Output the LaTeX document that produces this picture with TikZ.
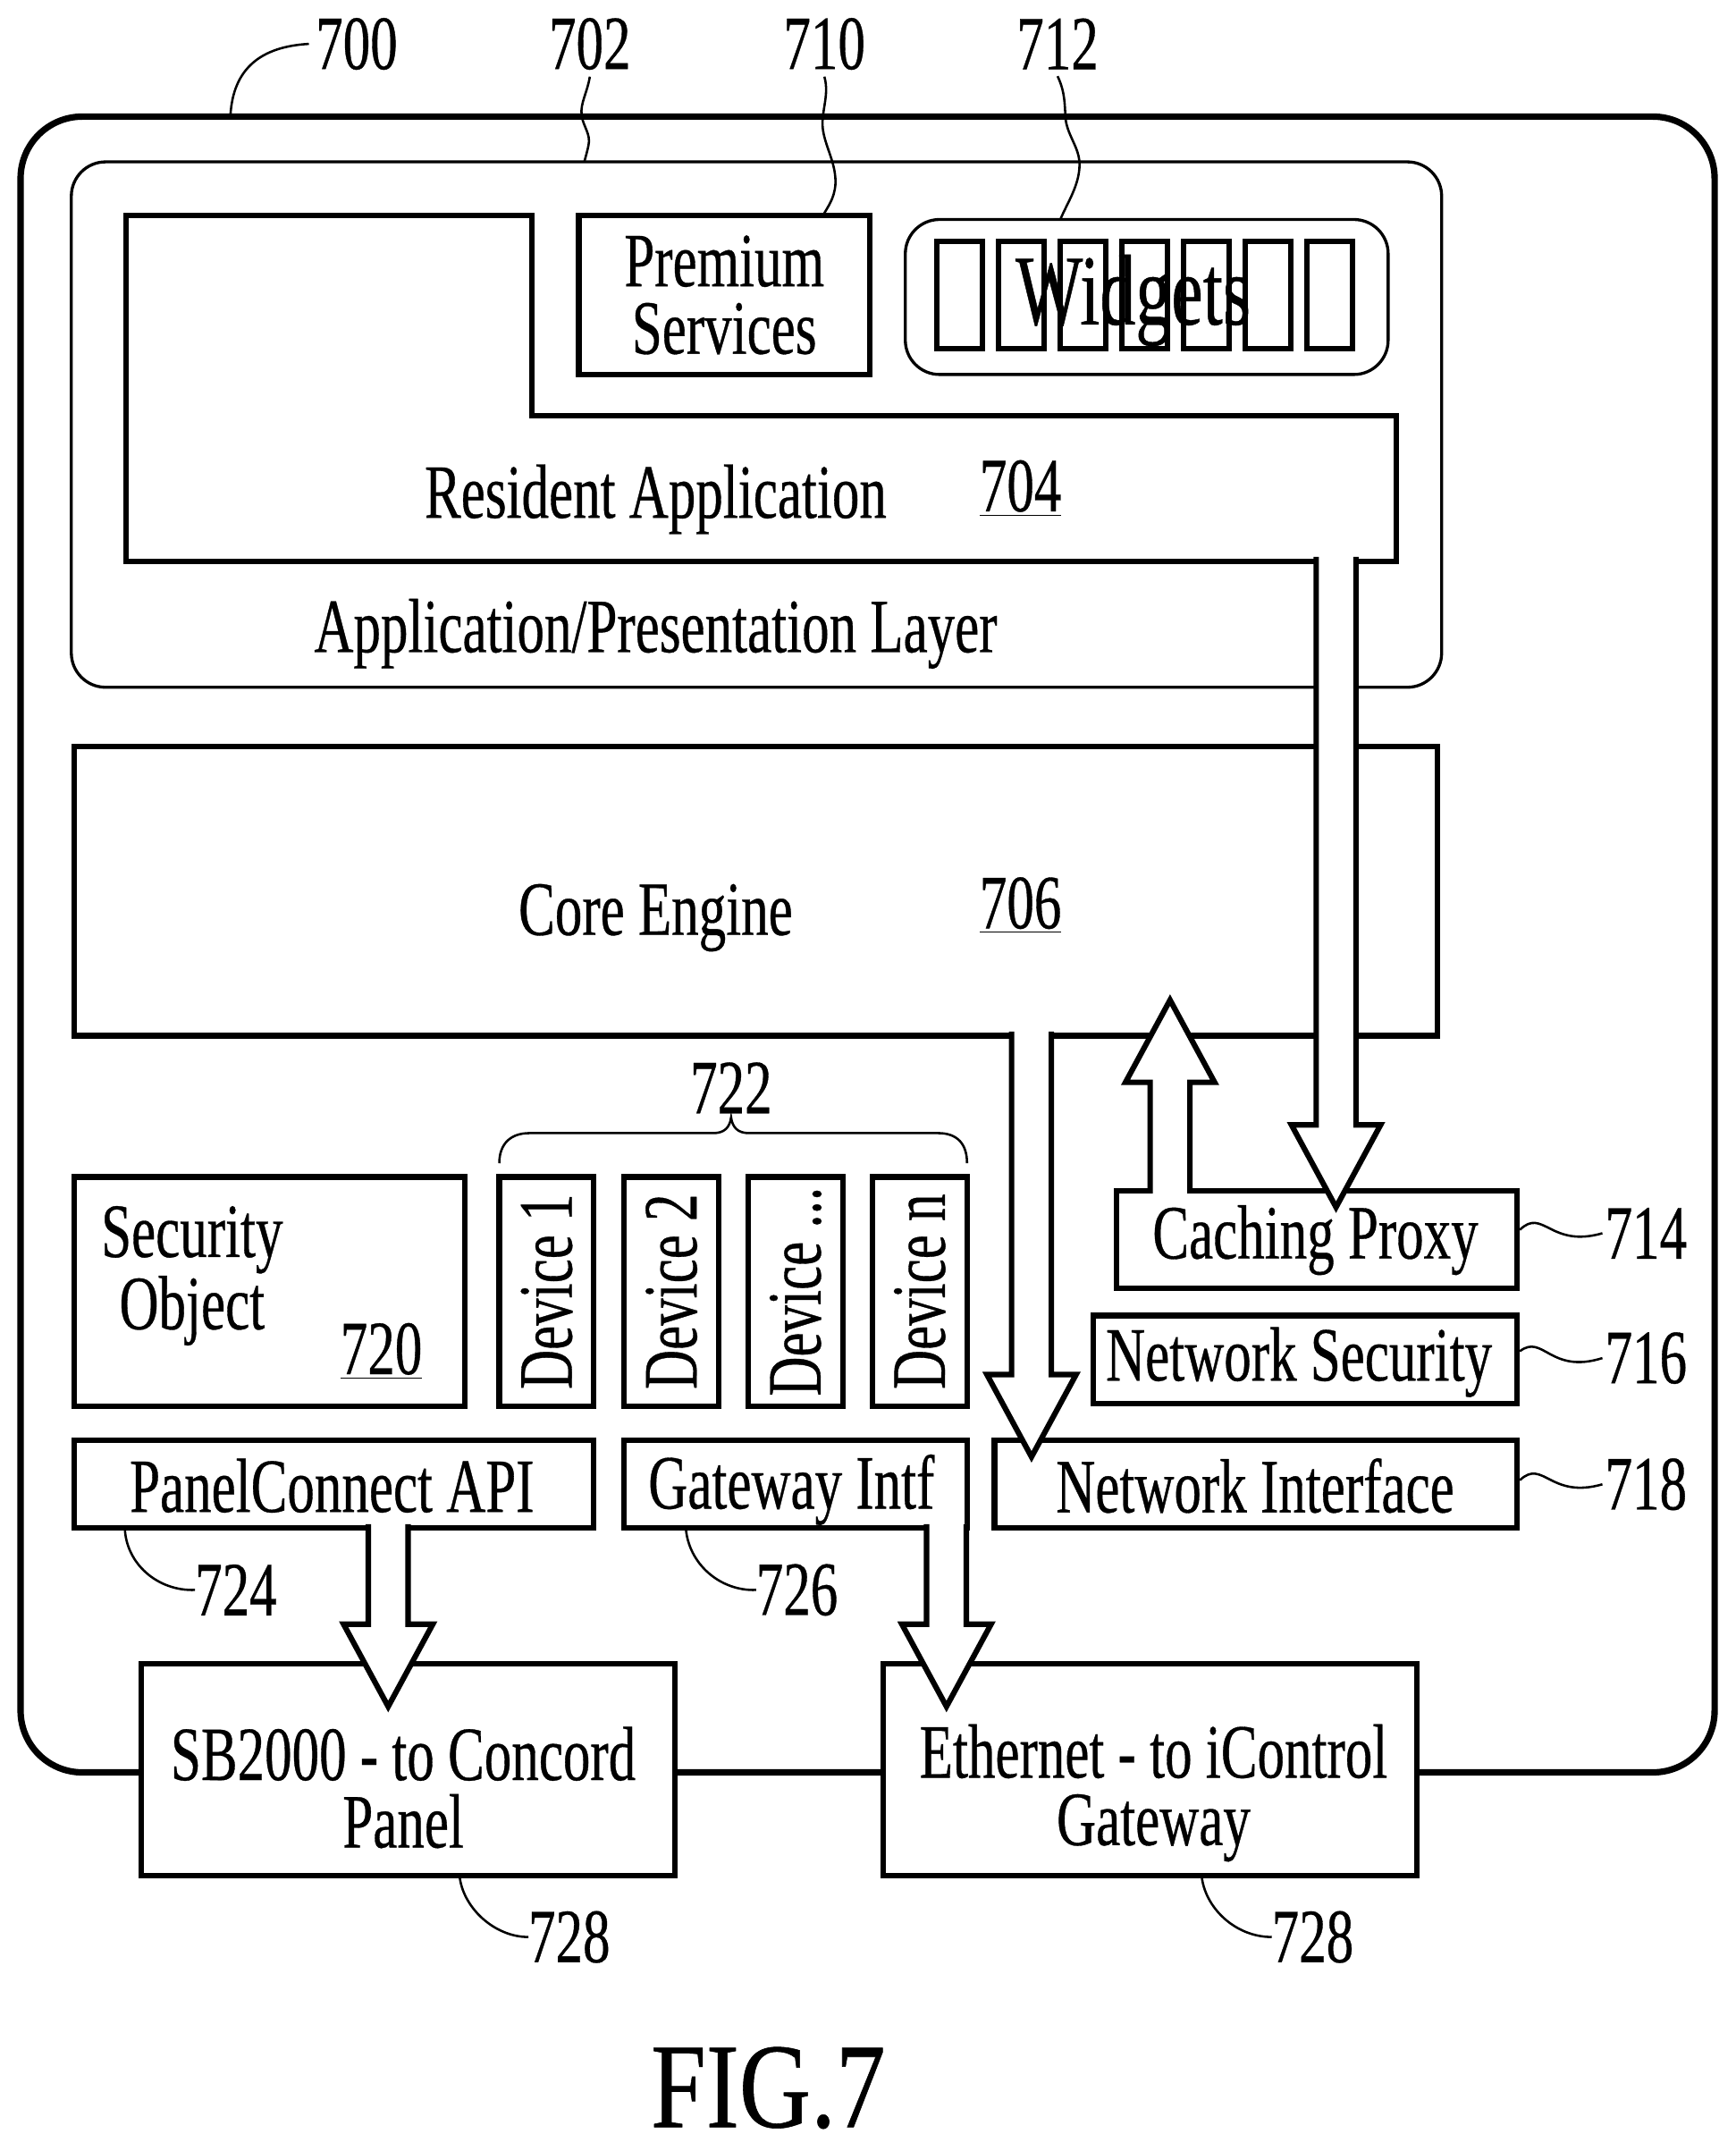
\documentclass[tikz,border=0pt]{standalone}
\usepackage{fontspec}
\setmainfont[FakeStretch=0.71,FakeBold=0.4]{Liberation Serif}
\newfontfamily\figfont[FakeStretch=0.82,FakeBold=0.4]{Liberation Serif}
\usetikzlibrary{calc}
\def\px{0.6pt}
\tikzset{
  thickbox/.style={draw, fill=white, line width=2.4pt, inner sep=0pt, outer sep=0pt, align=center, font=\bodyfont},
  thinbox/.style={draw, line width=1.3pt, inner sep=0pt, outer sep=0pt},
  slot/.style={draw, line width=2.4pt, inner sep=0pt, outer sep=0pt, minimum width=33*\px, minimum height=78*\px},
  devicebox/.style={thickbox, rotate=90, minimum width=167*\px, minimum height=69*\px},
  label/.style={inner sep=0pt, outer sep=0pt, align=center, font=\bodyfont},
  leader/.style={line width=1pt},
  blockline/.style={draw, fill=white, line width=2.4pt, line join=miter}
}
\newcommand{\bodyfont}{\fontsize{33.6}{29.5}\selectfont}
% from, tip, direction (1 down, -1 up)
\newcommand{\blockarrow}[3]{
  \path[blockline] ($(#1)+(-14.5,0)$) -- ($(#2)+(-14.5,-60*#3)$) -- ($(#2)+(-32.5,-60*#3)$) -- (#2)
    -- ($(#2)+(32.5,-60*#3)$) -- ($(#2)+(14.5,-60*#3)$) -- ($(#1)+(14.5,0)$);
}
\begin{document}
\begin{tikzpicture}[x=0.6pt, y=-0.6pt]
  \useasboundingbox (0,0) rectangle (1265,1568);

  % Nodes
  \node[draw, line width=2.8pt, rounded corners=45*\px, minimum width=1235*\px, minimum height=1207*\px, inner sep=0pt, outer sep=0pt] at (632.5,688.5) (device) {};
  \node[thinbox, rounded corners=25*\px, minimum width=999*\px, minimum height=383*\px] at (551.5,309.5) (applayer) {};

  \draw[line width=2.4pt, line join=miter] (92,157) -- (388,157) -- (388,303) -- (1018,303) -- (1018,409) -- (92,409) -- cycle;
  \node[label] at (478,364) (resident) {Resident Application};
  \node[label] at (744,356) (n704) {\underline{704}};
  \node[label] at (478,462) (applabel) {Application/Presentation Layer};

  \node[thickbox, minimum width=212*\px, minimum height=116*\px] at (528,215) (premium) {Premium\\Services};
  \node[thinbox, rounded corners=25*\px, minimum width=352*\px, minimum height=113*\px] at (836,216.5) (widgets) {};
  \foreach \i in {0,...,6}
    \node[slot] at (699.5+45*\i,215) (slot\i) {};
  \node[label, font=\fontsize{44}{44}\selectfont] at (826,219) (widgetlabel) {Widgets};

  \node[thickbox, minimum width=994*\px, minimum height=211*\px] at (551,649.5) (core) {};
  \node[label] at (478,669) (corelabel) {Core Engine};
  \node[label] at (744,660) (n706) {\underline{706}};

  \node[thickbox, minimum width=292*\px, minimum height=71*\px] at (960,903.5) (proxy) {};
  \node[thickbox, minimum width=309*\px, minimum height=64*\px] at (951.5,991) (netsec) {};
  \node[thickbox, minimum width=381*\px, minimum height=64*\px] at (915.5,1082) (netif) {};

  \node[thickbox, minimum width=285*\px, minimum height=167*\px] at (196.5,941.5) (security) {};
  \node[label] at (140,930) (seclabel) {Security\\Object};
  \node[label] at (278,985) (n720) {\underline{720}};

  \node[devicebox] at (398.5,941.5) (dev1) {Device 1};
  \node[devicebox] at (489.5,941.5) (dev2) {Device 2};
  \node[devicebox] at (580,941.5) (dev3) {Device ...};
  \node[devicebox] at (670.5,941.5) (dev4) {Device n};

  \node[thickbox, minimum width=379*\px, minimum height=64*\px] at (243.5,1082) (panelapi) {};
  \node[thickbox, minimum width=250*\px, minimum height=64*\px] at (580,1082) (gateway) {};

  \node[thickbox, minimum width=389*\px, minimum height=154*\px] at (297.5,1290) (sb2000) {};
  \node[thickbox, minimum width=389*\px, minimum height=154*\px] at (838.5,1290) (ethernet) {};

  % Reference numbers
  \node[label] at (260,32) (n700) {700};
  \node[label] at (430,32) (n702) {702};
  \node[label] at (601,32) (n710) {710};
  \node[label] at (771,32) (n712) {712};
  \node[label] at (533,793) (n722) {722};
  \node[label] at (1200,899) (n714) {714};
  \node[label] at (1200,990) (n716) {716};
  \node[label] at (1200,1082) (n718) {718};
  \node[label] at (172,1159) (n724) {724};
  \node[label] at (581,1159) (n726) {726};
  \node[label] at (415,1412) (n728a) {728};
  \node[label] at (957,1412) (n728b) {728};
  \node[inner sep=0pt, outer sep=0pt, font=\figfont\fontsize{53}{53}\selectfont] at (560,1522) (figlabel) {FIG.7};

  % Block arrows
  \coordinate (resfrom) at (974,406);
  \coordinate (restip) at (974,880);
  \coordinate (corefrom) at (752,752);
  \coordinate (coretip) at (752,1062);
  \coordinate (proxyfrom) at (853,870);
  \coordinate (proxytip) at (853,729);
  \coordinate (panelfrom) at (283,1111);
  \coordinate (paneltip) at (283,1244);
  \coordinate (gatefrom) at (690,1111);
  \coordinate (gatetip) at (690,1244);
  \blockarrow{resfrom}{restip}{1}
  \blockarrow{corefrom}{coretip}{1}
  \blockarrow{proxyfrom}{proxytip}{-1}
  \blockarrow{panelfrom}{paneltip}{1}
  \blockarrow{gatefrom}{gatetip}{1}

  % Labels over the arrows
  \node[label] at (959,904) (proxylabel) {Caching Proxy};
  \node[label] at (947,993) (netseclabel) {Network Security};
  \node[label] at (915,1083) (netiflabel) {Network Interface};
  \node[label] at (242,1083) (panellabel) {PanelConnect API};
  \node[label] at (577,1086) (gatewaylabel) {Gateway Intf};
  \node[label] at (294,1303) (sb2000label) {SB2000 - to Concord\\Panel};
  \node[label] at (841,1307) (ethernetlabel) {Ethernet - to iControl\\Gateway};

  % Leader lines
  \coordinate (to700) at (168,84);
  \coordinate (to702) at (426,118);
  \coordinate (to710) at (600,157);
  \coordinate (to712) at (773,160);
  \draw[leader] ([xshift=-5*\px]n700.west) .. controls (190,34) and (170,50) .. (to700);
  \draw[leader] ([yshift=-5*\px]n702.south) .. controls (428,68) and (423,75) .. (424,84) .. controls (425,92) and (431,98) .. (429,106) .. controls (428,111) and (427,114) .. (to702);
  \draw[leader] ([yshift=-5*\px]n710.south) .. controls (605,70) and (598,82) .. (600,95) .. controls (602,108) and (610,120) .. (609,135) .. controls (608,145) and (604,150) .. (to710);
  \draw[leader] ([yshift=-5*\px]n712.south) .. controls (777,68) and (776,78) .. (777,88) .. controls (779,100) and (787,108) .. (787,120) .. controls (787,135) and (778,148) .. (to712);
  \draw[leader] (proxy.east) ++(2,-7) .. controls (1125,880) and (1130,910) .. ([xshift=-2*\px]n714.west);
  \draw[leader] (netsec.east) ++(2,-6) .. controls (1125,972) and (1130,1002) .. ([xshift=-2*\px]n716.west);
  \draw[leader] (netif.east) ++(2,-3) .. controls (1125,1063) and (1130,1093) .. ([xshift=-2*\px]n718.west);
  \draw[leader] (panelapi.south west) ++(37,0) .. controls (92,1140) and (115,1160) .. (n724.west);
  \draw[leader] (gateway.south west) ++(45,0) .. controls (502,1140) and (525,1160) .. (n726.west);
  \draw[leader] (sb2000.south west) ++(232,0) .. controls (337,1390) and (360,1412) .. (n728a.west);
  \draw[leader] (ethernet.south west) ++(232,0) .. controls (878,1390) and (900,1412) .. (n728b.west);

  % Brace
  \coordinate (braceleft) at (364,848);
  \coordinate (braceright) at (705,848);
  \draw[leader] (braceleft) .. controls (364,834) and (372,826) .. (386,826) -- (520,826)
    .. controls (528,826) and (532,822) .. ([yshift=-3*\px]n722.south) .. controls (534,822) and (538,826) .. (546,826)
    -- (684,826) .. controls (698,826) and (705,834) .. (braceright);
\end{tikzpicture}
\end{document}
